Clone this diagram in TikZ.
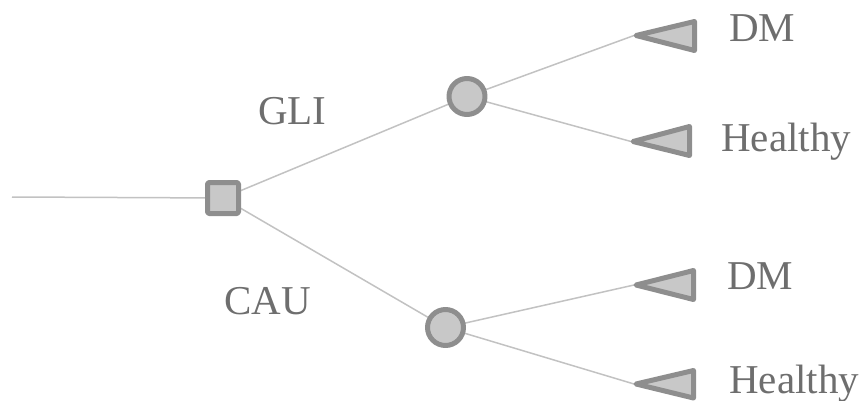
\documentclass[tikz,border=0pt]{standalone}
\usepackage{fontspec}
\newfontfamily\lblfont{Liberation Serif}
\usetikzlibrary{backgrounds}
\definecolor{bordc}{HTML}{8E8E8E}
\definecolor{fillc}{HTML}{C8C8C8}
\definecolor{linec}{HTML}{C2C2C2}
\definecolor{textc}{HTML}{6E6E6E}
\begin{document}
\begin{tikzpicture}[x=1pt,y=-1pt,
  shapebox/.style={draw=bordc,fill=fillc,line width=5pt,line join=round,inner sep=0pt},
  decbox/.style={shapebox,rectangle,minimum size=31pt,rounded corners=1.5pt},
  chancebox/.style={shapebox,circle,minimum size=36pt},
  endtri/.style={draw=bordc,fill=fillc,line width=5pt,line join=round},
  conn/.style={draw=linec,line width=1.5pt},
  lbl/.style={text=textc,font=\lblfont\fontsize{41}{48}\selectfont,anchor=base west,inner sep=0pt}]
\useasboundingbox (0,0) rectangle (862,401);
% nodes
\node[decbox] (dec) at (223,198) {};
\node[chancebox] (c1) at (467,96.5) {};
\node[chancebox] (c2) at (445.5,327.5) {};
% terminal triangles
\draw[endtri] (636,35.5) -- (694.5,21.5) -- (694.5,50.5) -- cycle;
\coordinate (t1) at (634,35.5);
\draw[endtri] (633,141.5) -- (689.5,126.5) -- (689.5,155.5) -- cycle;
\coordinate (t2) at (631,141.5);
\draw[endtri] (636,285) -- (693.5,270.5) -- (693.5,299.5) -- cycle;
\coordinate (t3) at (634,285);
\draw[endtri] (636,384) -- (693.5,370.5) -- (693.5,398) -- cycle;
\coordinate (t4) at (634,384);
\coordinate (start) at (12,197);
% connectors
\begin{scope}[on background layer]
\draw[conn] (start) -- (dec.center);
\draw[conn] (dec.center) -- (c1.center);
\draw[conn] (dec.center) -- (c2.center);
\draw[conn] (c1.center) -- (t1);
\draw[conn] (c1.center) -- (t2);
\draw[conn] (c2.center) -- (t3);
\draw[conn] (c2.center) -- (t4);
\end{scope}
% labels
\node[lbl] (gli) at (258,125) {GLI};
\node[lbl] (cau) at (224,314) {CAU};
\node[lbl] (dm1) at (729,42) {DM};
\node[lbl] (h1) at (721,152) {Healthy};
\node[lbl] (dm2) at (727,289) {DM};
\node[lbl] (h2) at (729,393) {Healthy};
\end{tikzpicture}
\end{document}
